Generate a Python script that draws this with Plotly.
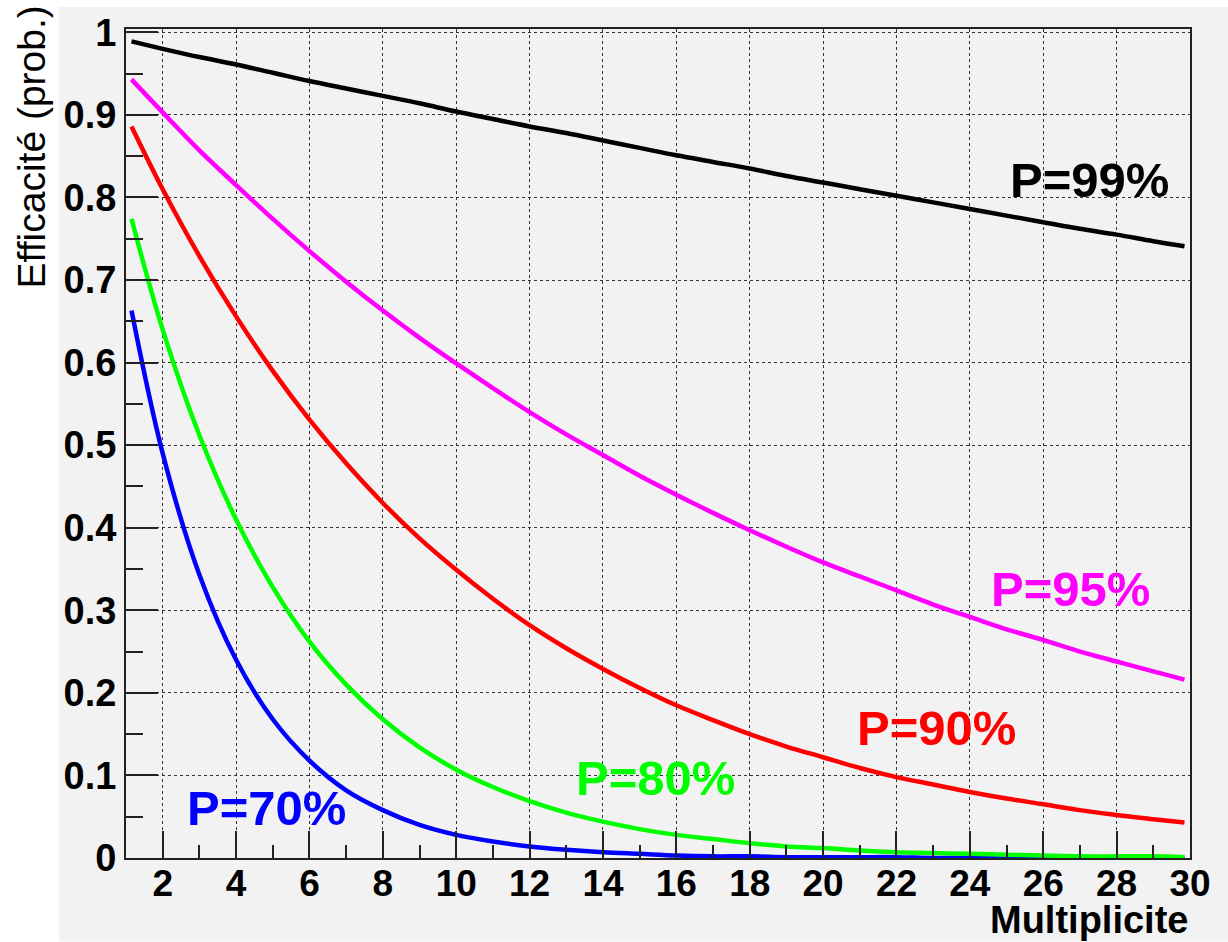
import plotly.graph_objects as go

# Multiplicity values at which each efficiency curve is sampled
multiplicite = [1.15, 2, 3, 4, 5, 6, 7, 8, 9, 10, 11, 12, 13, 14, 15, 16, 17, 18, 19, 20,
                21, 22, 23, 24, 25, 26, 27, 28, 29, 29.85]

# Efficiency (probability) per single-hit probability P
eff_p99 = [0.989, 0.980, 0.970, 0.961, 0.951, 0.941, 0.932, 0.923, 0.914, 0.904,
           0.895, 0.886, 0.878, 0.869, 0.860, 0.851, 0.843, 0.835, 0.826, 0.818,
           0.810, 0.802, 0.794, 0.786, 0.778, 0.770, 0.762, 0.755, 0.747, 0.741]
eff_p95 = [0.943, 0.903, 0.857, 0.815, 0.774, 0.735, 0.698, 0.663, 0.630, 0.599,
           0.569, 0.540, 0.513, 0.488, 0.463, 0.440, 0.418, 0.397, 0.377, 0.358,
           0.341, 0.324, 0.307, 0.292, 0.277, 0.264, 0.250, 0.238, 0.226, 0.216]
eff_p90 = [0.886, 0.810, 0.729, 0.656, 0.590, 0.531, 0.478, 0.430, 0.387, 0.349,
           0.314, 0.282, 0.254, 0.229, 0.206, 0.185, 0.167, 0.150, 0.135, 0.122,
           0.109, 0.098, 0.089, 0.080, 0.072, 0.065, 0.058, 0.052, 0.047, 0.043]
eff_p80 = [0.774, 0.640, 0.512, 0.410, 0.328, 0.262, 0.210, 0.168, 0.134, 0.107,
           0.086, 0.069, 0.055, 0.044, 0.035, 0.028, 0.023, 0.018, 0.014, 0.012,
           0.009, 0.007, 0.006, 0.005, 0.004, 0.003, 0.002, 0.002, 0.002, 0.001]
eff_p70 = [0.663, 0.490, 0.343, 0.240, 0.168, 0.118, 0.082, 0.058, 0.040, 0.028,
           0.020, 0.014, 0.010, 0.007, 0.005, 0.003, 0.002, 0.002, 0.001, 0.001,
           0.001, 0.001, 0.000, 0.000, 0.000, 0.000, 0.000, 0.000, 0.000, 0.000]

series_labels = ["P=99%", "P=95%", "P=90%", "P=70%", "P=80%"]
series_values = [eff_p99, eff_p95, eff_p90, eff_p70, eff_p80]
series_colors = ["#000000", "#ff00ff", "#ff0000", "#0000ff", "#00ff00"]
# label anchor positions in data units (x, y)
label_pos = {"P=99%": (27.27, 0.821), "P=95%": (26.73, 0.326), "P=90%": (23.08, 0.157),
             "P=80%": (15.42, 0.097), "P=70%": (4.84, 0.060)}

W, H = 1228, 942
ML, MR, MT, MB = 126, 38, 25, 84
PW, PH = W - ML - MR, H - MT - MB

fig = go.Figure()
for name, vals, col in zip(series_labels, series_values, series_colors):
    fig.add_trace(go.Scatter(x=multiplicite, y=vals, mode="lines", name=name,
                             line=dict(color=col, width=4.5, shape="spline"),
                             showlegend=False))

bold = dict(family="Liberation Sans", color="black", weight="bold")

annotations = []
for name, col in zip(series_labels, series_colors):
    x, y = label_pos[name]
    annotations.append(dict(x=x, y=y, xref="x", yref="y", text=name, showarrow=False,
                            xanchor="center", yanchor="middle",
                            font=dict(family="Liberation Sans", size=49, color=col,
                                      weight="bold")))

# axis titles
annotations.append(dict(x=(1190 - ML) / PW, y=(MT + PH - 920) / PH, xref="paper", yref="paper",
                        text="Multiplicite", showarrow=False, xanchor="right", yanchor="middle",
                        font=dict(bold, size=38)))
annotations.append(dict(x=(31 - ML) / PW, y=(MT + PH - 144) / PH, xref="paper", yref="paper",
                        text="Efficacité (prob.)", showarrow=False, textangle=-90,
                        xanchor="center", yanchor="middle",
                        font=dict(family="Liberation Sans", size=39, color="black")))

# grey canvas behind the pad, leaving a white strip at left/top
shapes = [dict(type="rect", xref="paper", yref="paper", layer="below",
               x0=(59 - ML) / PW, x1=(W - ML) / PW,
               y0=(MT + PH - H) / PH, y1=(MT + PH - 3) / PH,
               fillcolor="#f2f2f2", line=dict(width=0))]

axis_common = dict(showline=True, mirror=True, linecolor="#222222", linewidth=2,
                   ticks="inside", tickcolor="#222222", tickwidth=2,
                   showgrid=True, gridcolor="#333333", gridwidth=1, griddash="dot",
                   zeroline=False)

fig.update_layout(
    width=W, height=H,
    margin=dict(l=ML, r=MR, t=MT, b=MB, pad=0),
    paper_bgcolor="white", plot_bgcolor="#f2f2f2",
    xaxis=dict(axis_common, range=[1, 30], tick0=2, dtick=2, ticklen=27,
               tickfont=dict(bold, size=37), ticklabelstandoff=-8,
               minor=dict(dtick=1, tick0=1, ticklen=13, ticks="inside", tickcolor="#222222",
                          tickwidth=2, showgrid=False)),
    yaxis=dict(axis_common, range=[0, 1.004], tick0=0, dtick=0.1, ticklen=32,
               tickfont=dict(bold, size=38),
               minor=dict(dtick=0.05, tick0=0, ticklen=17, ticks="inside", tickcolor="#222222",
                          tickwidth=2, showgrid=False)),
    annotations=annotations, shapes=shapes,
)

fig.write_html("out.html")
